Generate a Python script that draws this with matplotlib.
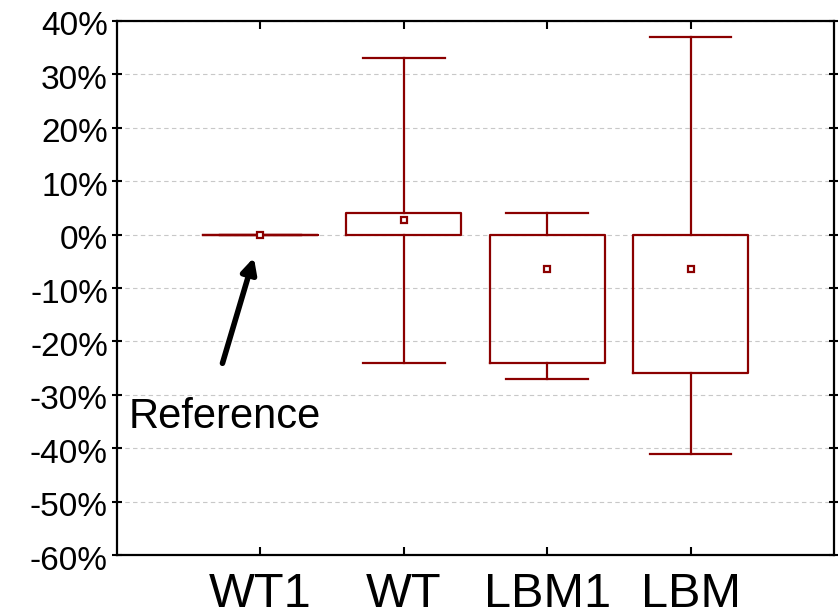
import matplotlib
matplotlib.use("Agg")
import matplotlib.pyplot as plt
import matplotlib.transforms as mtransforms
from matplotlib.ticker import FuncFormatter

plt.rcParams['font.family'] = ['Liberation Sans', 'DejaVu Sans']

# groups and box statistics (in %)
groups = ['WT1', 'WT', 'LBM1', 'LBM']
medians = [0.0, 2.7, -6.4, -6.4]
q1 = [0.0, 0.0, -24.0, -26.0]
q3 = [0.0, 4.0, 0.0, 0.0]
lows = [0.0, -24.0, -27.0, -41.0]
highs = [0.0, 33.0, 4.0, 37.0]
yticks = list(range(-60, 41, 10))

col = '#8b0000'

stats = []
for i in range(len(groups)):
    stats.append(dict(label=groups[i], med=medians[i], mean=medians[i],
                      q1=q1[i], q3=q3[i], whislo=lows[i], whishi=highs[i],
                      fliers=[]))

fig = plt.figure(figsize=(8.38, 6.12), dpi=100)
ax = fig.add_axes([0.1396, 0.0931, 0.8556, 0.8726])

ax.bxp(stats, positions=[1, 2, 3, 4], widths=0.8, capwidths=0.57,
       showmeans=True, showfliers=False,
       boxprops=dict(color=col, linewidth=1.6),
       whiskerprops=dict(color=col, linewidth=1.6),
       capprops=dict(color=col, linewidth=1.6),
       medianprops=dict(linewidth=0),
       meanprops=dict(marker='s', markersize=5, markerfacecolor='white',
                      markeredgecolor=col, markeredgewidth=1.6),
       zorder=3)

ax.set_xlim(0, 5)
ax.set_ylim(-60, 40)
ax.set_yticks(yticks)
ax.yaxis.set_major_formatter(FuncFormatter(lambda v, p: f'{int(v)}%'))
ax.set_xticks([1, 2, 3, 4])
ax.set_xticklabels(groups, fontsize=35)
ax.tick_params(axis='x', direction='in', length=6, width=1.5, top=True, pad=12.5)
ax.tick_params(axis='y', direction='inout', length=7, width=1.5, right=True,
               labelsize=24, pad=3)
# nudge the y labels slightly below their ticks
shift = mtransforms.ScaledTranslation(0, -2.5 / 100, fig.dpi_scale_trans)
for lbl in ax.get_yticklabels():
    lbl.set_transform(lbl.get_transform() + shift)
ax.grid(axis='y', linestyle=(0, (4, 3)), color='#c8c8c8', linewidth=0.8, zorder=0)
for s in ax.spines.values():
    s.set_linewidth(1.6)

# annotation for the reference group
ax.annotate('', xy=(0.96, -3.8), xytext=(0.73, -24.6),
            arrowprops=dict(arrowstyle='-|>,head_length=0.9,head_width=0.45',
                            color='black', linewidth=4))
ax.text(0.084, -36.2, 'Reference', fontsize=30, ha='left', va='baseline')

fig.savefig('out.png', dpi=100)
